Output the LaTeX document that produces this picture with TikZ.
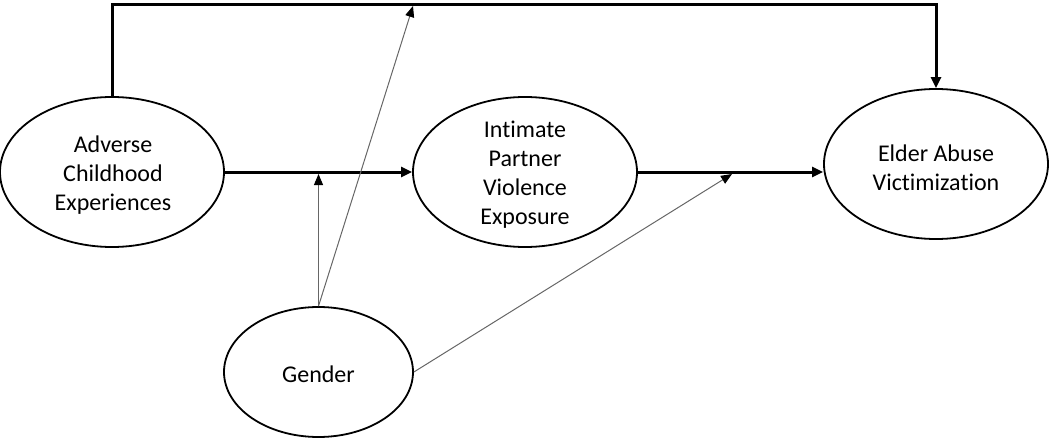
\documentclass[tikz,border=0pt]{standalone}
\usepackage{fontspec}
\setmainfont[Ligatures={NoCommon,NoRare},Contextuals=NoAlternate]{Carlito}
\usetikzlibrary{shapes.geometric,arrows.meta}
\begin{document}
\begin{tikzpicture}[x=1pt,y=-1pt,
  ell/.style={ellipse,draw,line width=1.8pt,inner sep=0pt,minimum width=224pt,minimum height=150pt},
  gell/.style={ellipse,draw,line width=1.8pt,inner sep=0pt,minimum width=189pt,minimum height=130pt},
  lbl/.style={align=center,font=\fontsize{24pt}{29pt}\selectfont,inner sep=0pt},
  bigarrow/.style={line width=3pt,-{Triangle[length=11pt,width=10pt]}},
  thinarrow/.style={line width=1pt,draw=black!60,-{Triangle[length=11pt,width=9pt,color=black]}}
]
\useasboundingbox (0,0) rectangle (1050,439);
\node[ell] (ace) at (112,172) {};
\node[ell] (ipv) at (525,172) {};
\node[ell] (eav) at (936,164) {};
\node[gell] (gen) at (318.5,372) {};
\node[lbl] (acet) at (113,175) {Adverse\\Childhood\\Experiences};
\node[lbl] (ipvt) at (525,175) {Intimate\\Partner\\Violence\\Exposure};
\node[lbl] (eavt) at (936,168) {Elder Abuse\\Victimization};
\node[lbl] (gent) at (318.5,374) {Gender};
\coordinate (top) at (0,4.5);
\coordinate (m1) at (318.5,174);
\coordinate (m2) at (413,6);
\coordinate (m3) at (732,174);
\draw[bigarrow] (ace.north) -- (ace.north |- top) -| (eav.north);
\draw[bigarrow] (ace.east) -- (ipv.west);
\draw[bigarrow] (ipv.east) -- (ipv.east -| eav.west);
\draw[thinarrow] (gen.north) -- (m1);
\draw[thinarrow] (gen.north) -- (m2);
\draw[thinarrow] (gen.east) -- (m3);
\end{tikzpicture}
\end{document}
